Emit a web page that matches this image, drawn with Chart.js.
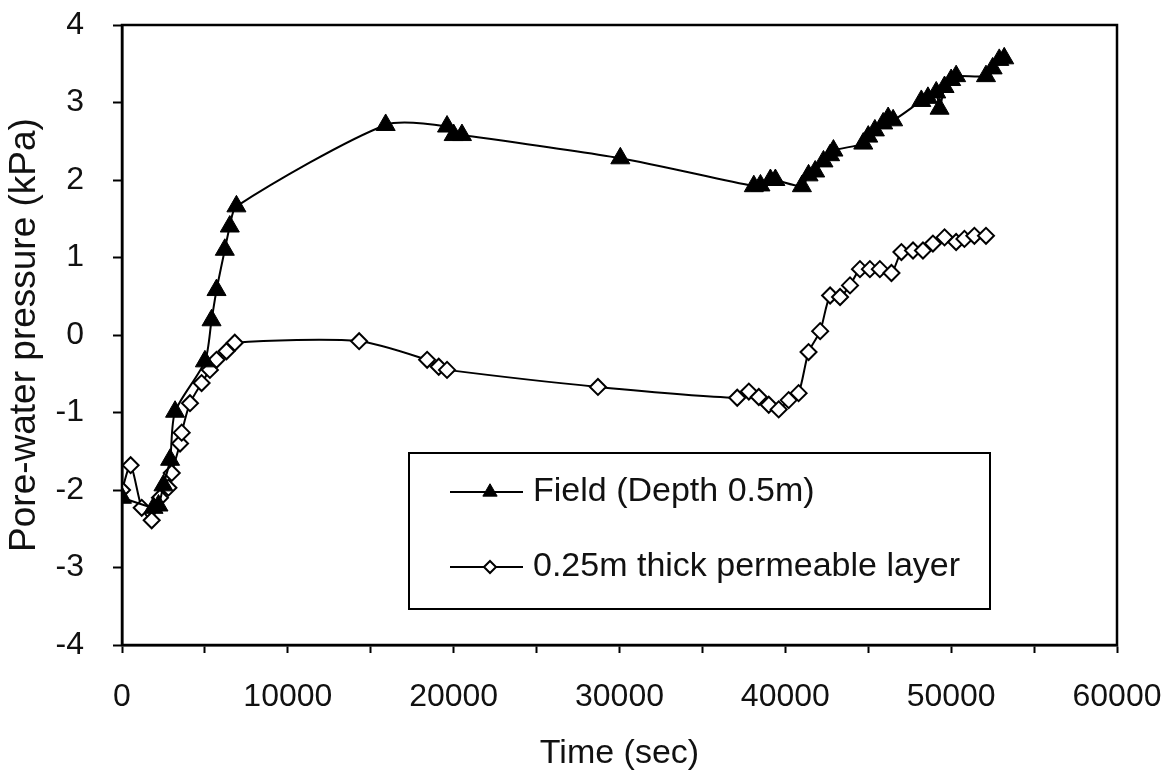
<!DOCTYPE html>
<html>
<head>
<meta charset="utf-8">
<script src="https://cdn.jsdelivr.net/npm/chart.js@4.4.1/dist/chart.umd.min.js"></script>
<style>
  html, body { margin: 0; padding: 0; background: #fff; }
  #wrap { width: 1168px; height: 776px; }
</style>
</head>
<body>
<div id="wrap"><canvas id="chart" width="1168" height="776"></canvas></div>
<script>
// Field measurement, depth 0.5 m (time in sec, pressure in kPa)
var fieldTime = [0, 1900, 2200, 2500, 2900, 3200, 5000, 5400, 5700, 6200, 6500, 6900,
  15900, 19600, 20000, 20500, 30050, 38100, 38500, 39100, 39400, 41000, 41400, 41800,
  42300, 42700, 42900, 44700, 45000, 45400, 45900, 46200, 46500, 48200, 48600, 49100,
  49300, 49600, 50000, 50300, 52100, 52500, 52900, 53200];
var fieldKPa = [-2.1, -2.23, -2.2, -1.94, -1.61, -0.99, -0.34, 0.19, 0.58, 1.1, 1.4, 1.66,
  2.71, 2.69, 2.58, 2.58, 2.28, 1.92, 1.93, 2.0, 2.0, 1.92, 2.06, 2.11,
  2.24, 2.32, 2.38, 2.47, 2.56, 2.64, 2.73, 2.8, 2.77, 3.02, 3.06, 3.13,
  2.92, 3.2, 3.29, 3.34, 3.34, 3.44, 3.55, 3.57];

// Model, 0.25 m thick permeable layer
var layerTime = [0, 520, 1190, 1790, 2290, 2800, 3000, 3500, 3600, 4100, 4800, 5300, 5700,
  6300, 6800, 14300, 18400, 19100, 19600, 28700, 37100, 37800, 38400, 39000, 39600,
  40200, 40800, 41400, 42100, 42700, 43300, 43900, 44500, 45100, 45700, 46400, 47000,
  47700, 48300, 48900, 49600, 50300, 50800, 51400, 52100];
var layerKPa = [-2.0, -1.68, -2.23, -2.39, -2.1, -1.97, -1.78, -1.4, -1.26, -0.88, -0.62, -0.45, -0.32,
  -0.21, -0.1, -0.08, -0.32, -0.41, -0.45, -0.67, -0.81, -0.73, -0.8, -0.9, -0.96,
  -0.84, -0.75, -0.22, 0.05, 0.51, 0.49, 0.64, 0.85, 0.85, 0.85, 0.8, 1.07,
  1.09, 1.09, 1.18, 1.26, 1.2, 1.24, 1.28, 1.28];

var seriesNames = ['Field (Depth 0.5m)', '0.25m thick permeable layer'];
var xTitle = 'Time (sec)';
var yTitle = 'Pore-water pressure (kPa)';
var xMin = 0, xMax = 60000, xStep = 5000, xLabelStep = 10000;
var yMin = -4, yMax = 4, yStep = 1;

function pairs(xs, ys){ return xs.map(function(x, i){ return {x: x, y: ys[i]}; }); }

var FONT = '"Liberation Sans", Arial, sans-serif';
var INK = '#111';

// box round the plot area (top and right sides too)
var framePlugin = {
  id: 'frame',
  afterDraw: function(chart){
    var a = chart.chartArea, ctx = chart.ctx;
    ctx.save();
    ctx.strokeStyle = '#000';
    ctx.lineWidth = 2.5;
    ctx.strokeRect(a.left, a.top, a.right - a.left, a.bottom - a.top);
    ctx.restore();
  }
};

// legend drawn inside the plot, like the Excel original
var boxLegend = {
  id: 'boxLegend',
  afterDraw: function(chart){
    var a = chart.chartArea, ctx = chart.ctx;
    var left = a.left + 287, top = a.top + 428, w = 581, h = 156;
    ctx.save();
    ctx.fillStyle = '#fff';
    ctx.fillRect(left, top, w, h);
    ctx.strokeStyle = '#000';
    ctx.lineWidth = 2;
    ctx.strokeRect(left, top, w, h);
    chart.data.datasets.forEach(function(ds, i){
      var y = top + 39 + i * 75;
      ctx.strokeStyle = '#000';
      ctx.lineWidth = 2;
      ctx.beginPath();
      ctx.moveTo(left + 41, y);
      ctx.lineTo(left + 114, y);
      ctx.stroke();
      ctx.fillStyle = ds.pointBackgroundColor;
      ctx.strokeStyle = ds.pointBorderColor;
      ctx.lineWidth = ds.pointBorderWidth;
      Chart.helpers.drawPoint(ctx, {
        pointStyle: ds.pointStyle, radius: ds.pointRadius * 0.75,
        rotation: 0, borderWidth: ds.pointBorderWidth
      }, left + 81, y);
      ctx.fillStyle = INK;
      ctx.font = '34px ' + FONT;
      ctx.textBaseline = 'middle';
      ctx.textAlign = 'left';
      ctx.fillText(ds.label, left + 124, y);
    });
    ctx.restore();
  }
};

new Chart(document.getElementById('chart'), {
  type: 'line',
  data: {
    datasets: [
      {
        label: seriesNames[0],
        data: pairs(fieldTime, fieldKPa),
        borderColor: '#000', borderWidth: 2, tension: 0.25,
        pointStyle: 'triangle', pointRadius: 11,
        pointBackgroundColor: '#000', pointBorderColor: '#000', pointBorderWidth: 1
      },
      {
        label: seriesNames[1],
        data: pairs(layerTime, layerKPa),
        borderColor: '#000', borderWidth: 2, tension: 0.25,
        pointStyle: 'rectRot', pointRadius: 8,
        pointBackgroundColor: '#fff', pointBorderColor: '#000', pointBorderWidth: 2
      }
    ]
  },
  options: {
    responsive: false,
    animation: false,
    devicePixelRatio: 1,
    layout: { padding: { top: 25, right: 51, bottom: 0, left: 0 } },
    plugins: { legend: { display: false }, tooltip: { enabled: false } },
    scales: {
      x: {
        type: 'linear', min: xMin, max: xMax,
        afterFit: function(s){ s.height = 131; s.paddingLeft = 0; s.paddingRight = 0; },
        ticks: {
          stepSize: xStep, autoSkip: false, maxRotation: 0, padding: 25,
          color: INK, font: { family: FONT, size: 32 },
          callback: function(v){ return v % xLabelStep === 0 ? String(v) : ''; }
        },
        grid: { drawOnChartArea: false, drawTicks: true, tickLength: 8, color: '#000', tickWidth: 2 },
        border: { display: true, color: '#000', width: 2.5 },
        title: { display: true, text: xTitle, color: INK,
          font: { family: FONT, size: 34, lineHeight: 1.2 }, padding: { top: 0, bottom: 2 } }
      },
      y: {
        min: yMin, max: yMax,
        afterFit: function(s){ s.width = 122; s.paddingTop = 0; s.paddingBottom = 0; },
        ticks: { stepSize: yStep, padding: 29, color: INK, font: { family: FONT, size: 32 } },
        grid: { drawOnChartArea: false, drawTicks: true, tickLength: 9, color: '#000', tickWidth: 2 },
        border: { display: true, color: '#000', width: 2.5 },
        title: { display: true, text: yTitle, color: INK,
          font: { family: FONT, size: 37, lineHeight: 1.2 }, padding: { top: 3, bottom: 0 } }
      }
    }
  },
  plugins: [framePlugin, boxLegend]
});
</script>
</body>
</html>
